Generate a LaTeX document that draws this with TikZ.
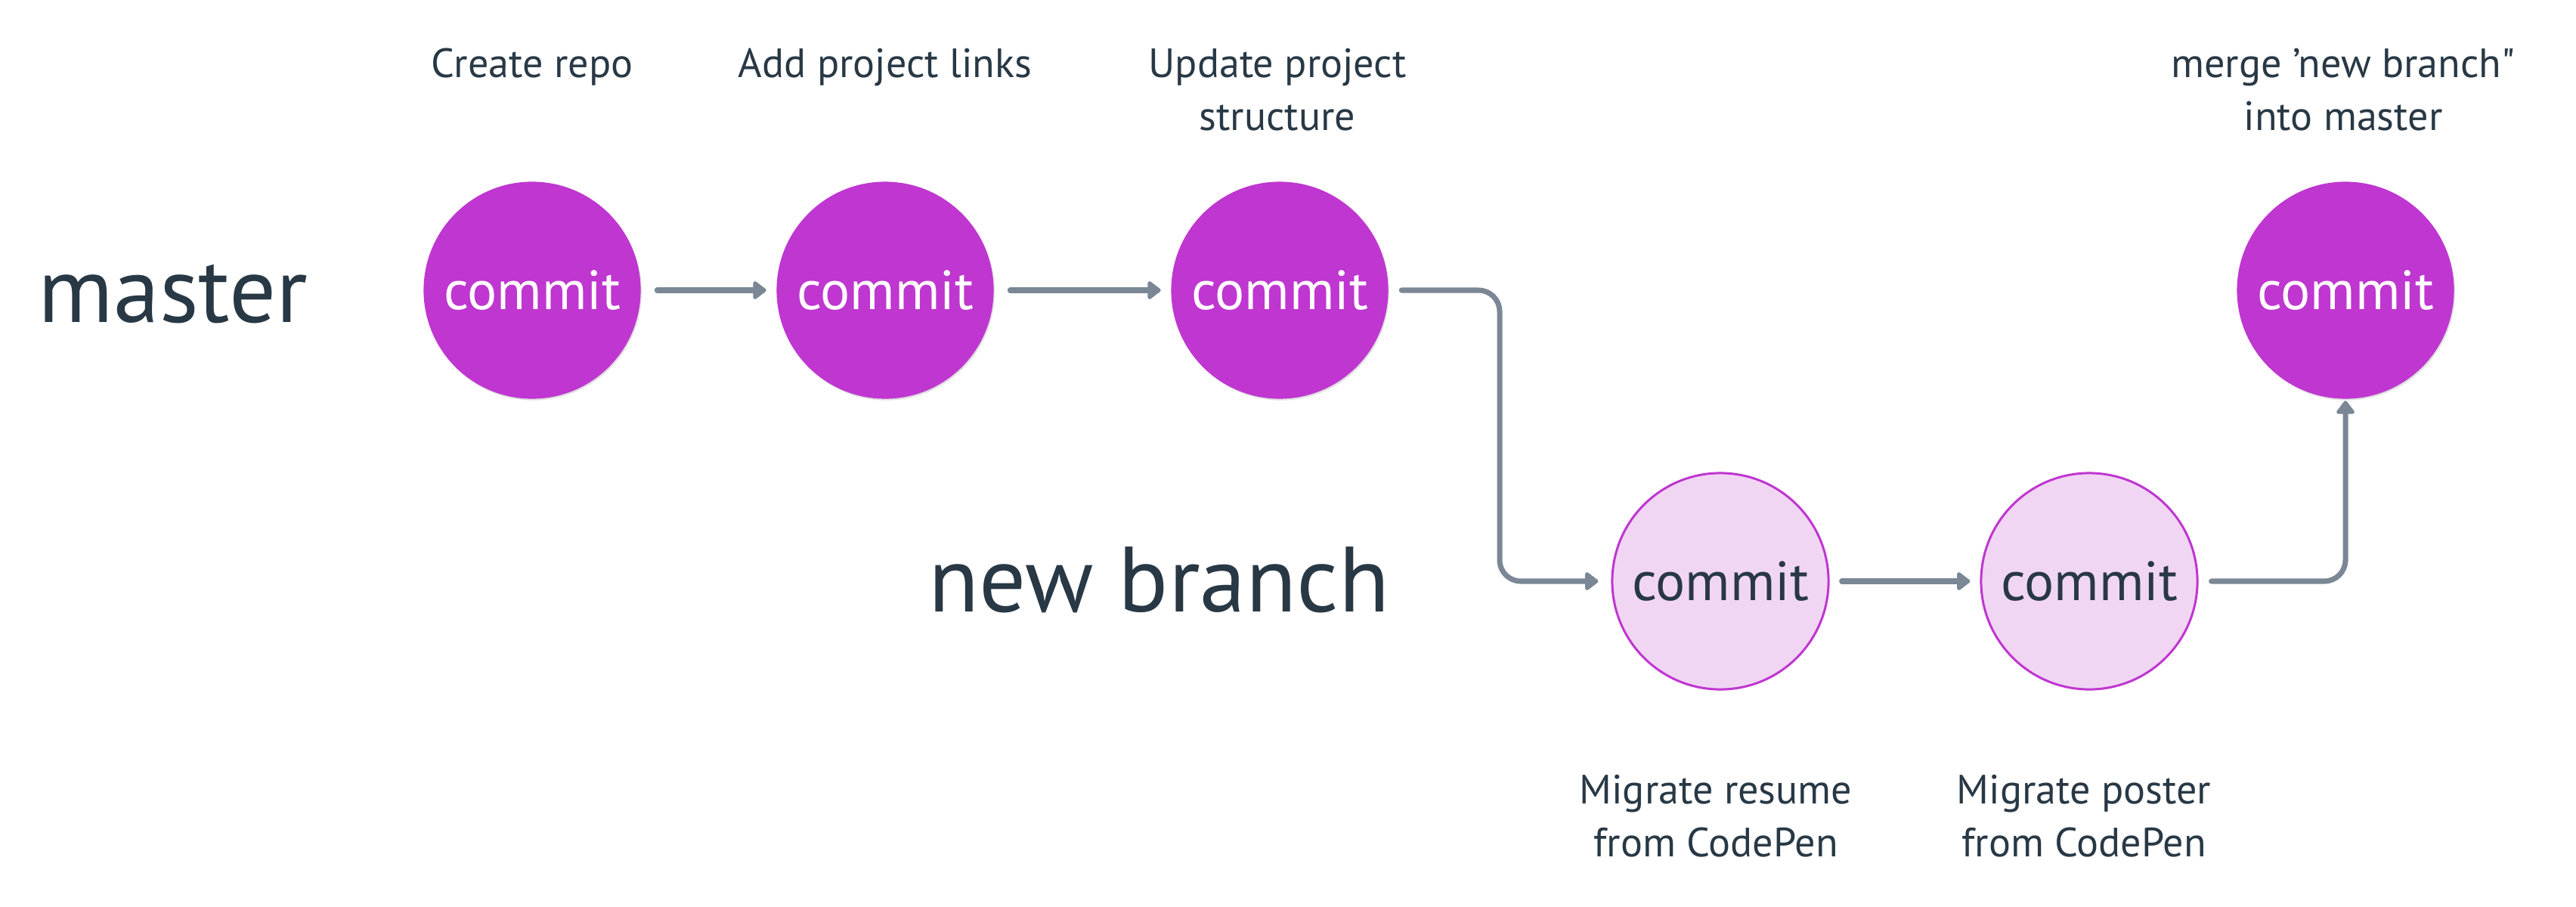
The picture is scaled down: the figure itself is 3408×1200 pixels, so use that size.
\documentclass[tikz,border=0pt]{standalone}
\usepackage{fontspec}
\setmainfont{PT Sans}[Ligatures=TeXOff]
\usetikzlibrary{arrows.meta,shadows}
\definecolor{cpurple}{HTML}{BF36D0}
\definecolor{clight}{HTML}{F1D6F4}
\definecolor{cgray}{HTML}{7B8794}
\definecolor{ctext}{HTML}{283845}
\tikzset{
  commitdark/.style={circle, fill=cpurple, draw=none, minimum size=2.87cm, inner sep=0pt,
    text=white, font=\fontsize{20.8}{24}\selectfont,
    drop shadow={shadow xshift=0.4pt, shadow yshift=-0.6pt, opacity=0.12, fill=black}},
  commitlight/.style={circle, fill=clight, draw=cpurple, line width=0.85pt, minimum size=2.86cm, inner sep=0pt,
    text=ctext, font=\fontsize{20.8}{24}\selectfont},
  branchlabel/.style={text=ctext, font=\fontsize{34.9}{40}\selectfont, inner sep=0pt, anchor=base west},
  msglabel/.style={text=ctext, font=\fontsize{15.4}{19.8}\selectfont, inner sep=0pt, align=center, anchor=base},
  arr/.style={draw=cgray, line width=2pt, line cap=round, -{Triangle[length=5.4pt,width=7.8pt,round]}},
}
\begin{document}
\begin{tikzpicture}[x=0.01cm, y=-0.01cm]
\useasboundingbox (0,0) rectangle (3408,1200);
% branch names
\node[branchlabel] (master) at (50,426) {master};
\node[branchlabel] (newbranch) at (1228,809) {new branch};
% commits
\node[commitdark] (c1) at (704,384) {commit};
\node[commitdark] (c2) at (1171,384) {commit};
\node[commitdark] (c3) at (1693,384) {commit};
\node[commitdark] (c4) at (3103,384) {commit};
\node[commitlight] (l1) at (2276,769) {commit};
\node[commitlight] (l2) at (2764,769) {commit};
% messages (anchor=base is the baseline of the last line)
\node[msglabel] (m1) at (704,103) {Create repo};
\node[msglabel] (m2) at (1171,103) {Add project links};
\node[msglabel] (m3) at (1690,172) {Update project\\structure};
\node[msglabel] (m4) at (3100,172) {merge ’new branch"\\into master};
\node[msglabel] (m5) at (2270,1133) {Migrate resume\\from CodePen};
\node[msglabel] (m6) at (2757,1133) {Migrate poster\\from CodePen};
% connectors
\coordinate (bx) at (1984,384);
\draw[arr, shorten <=0.21cm, shorten >=0.13cm] (c1) -- (c2);
\draw[arr, shorten <=0.21cm, shorten >=0.13cm] (c2) -- (c3);
\draw[arr, shorten <=0.17cm, shorten >=0.17cm, rounded corners=0.28cm]
  (c3.east) -- (bx) -- (bx |- l1.west) -- (l1.west);
\draw[arr, shorten <=0.16cm, shorten >=0.13cm] (l1) -- (l2);
\draw[arr, shorten <=0.17cm, shorten >=0.02cm, rounded corners=0.28cm]
  (l2.east) -| (c4.south);
\end{tikzpicture}
\end{document}
